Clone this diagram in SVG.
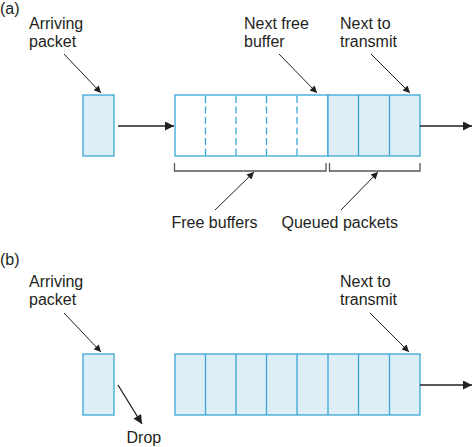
<svg xmlns="http://www.w3.org/2000/svg" width="474" height="447" viewBox="0 0 474 447">
<defs>
<style>
text{font-family:"Liberation Sans",Arial,sans-serif;font-size:16px;fill:#231f20}
.cell{stroke:#3aa6d6;stroke-width:1.3}
.full{fill:#deeef7}
.empty{fill:#ffffff}
.dash{stroke:#3aa6d6;stroke-width:1.3;stroke-dasharray:7,3.5}
.div{stroke:#3aa6d6;stroke-width:1.3}
.ptr{stroke:#231f20;stroke-width:1;fill:none}
.main{stroke:#231f20;stroke-width:1.3;fill:none}
.brace{stroke:#555;stroke-width:1.3;fill:none}
</style>
<marker id="ah" viewBox="0 0 10 10" refX="10" refY="5" markerWidth="10" markerHeight="7" markerUnits="userSpaceOnUse" orient="auto"><path d="M0,0L10,5L0,10z" fill="#231f20"/></marker>
<marker id="ahb" viewBox="0 0 10 10" refX="10" refY="5" markerWidth="16" markerHeight="9" markerUnits="userSpaceOnUse" orient="auto"><path d="M0,0L10,5L0,10z" fill="#231f20"/></marker>
</defs>

<text x="0" y="14">(a)</text>
<text x="0" y="265">(b)</text>

<g id="a-arriving-label"><text x="29" y="29">Arriving</text><text x="29" y="47">packet</text></g>
<g id="a-nextfree-label"><text x="244" y="29">Next free</text><text x="244" y="47">buffer</text></g>
<g id="a-nexttx-label"><text x="340" y="29">Next to</text><text x="340" y="47">transmit</text></g>

<g id="a-packet"><rect class="cell full" x="83" y="95" width="31" height="61"/></g>

<g id="a-queue">
<rect class="cell empty" x="175" y="95" width="153" height="61"/>
<rect class="cell full" x="328" y="95" width="92" height="61"/>
<line class="dash" x1="205.5" y1="96" x2="205.5" y2="156"/>
<line class="dash" x1="236" y1="96" x2="236" y2="156"/>
<line class="dash" x1="266.5" y1="96" x2="266.5" y2="156"/>
<line class="dash" x1="297" y1="96" x2="297" y2="156"/>
<line class="div" x1="358.5" y1="95" x2="358.5" y2="156"/>
<line class="div" x1="389.5" y1="95" x2="389.5" y2="156"/>
</g>

<g id="a-braces">
<path class="brace" d="M174.5,163V171H326V163"/>
<path class="brace" d="M329.5,163V171H420V163"/>
</g>
<g id="a-free-label"><text x="171.5" y="228">Free buffers</text></g>
<g id="a-queued-label"><text x="281.5" y="228">Queued packets</text></g>

<g id="b-arriving-label"><text x="29" y="287">Arriving</text><text x="29" y="305">packet</text></g>
<g id="b-nexttx-label"><text x="340" y="287">Next to</text><text x="340" y="305">transmit</text></g>
<g id="b-packet"><rect class="cell full" x="83" y="354" width="31" height="61"/></g>
<g id="b-queue">
<rect class="cell full" x="175" y="354" width="245" height="61"/>
<line class="div" x1="205.5" y1="354" x2="205.5" y2="415"/>
<line class="div" x1="236" y1="354" x2="236" y2="415"/>
<line class="div" x1="266.5" y1="354" x2="266.5" y2="415"/>
<line class="div" x1="297" y1="354" x2="297" y2="415"/>
<line class="div" x1="328" y1="354" x2="328" y2="415"/>
<line class="div" x1="358.5" y1="354" x2="358.5" y2="415"/>
<line class="div" x1="389.5" y1="354" x2="389.5" y2="415"/>
</g>
<g id="b-drop-label"><text x="126.5" y="443">Drop</text></g>

<g id="connectors">
<line class="ptr" x1="64" y1="54" x2="101" y2="93" marker-end="url(#ah)"/>
<line class="ptr" x1="279" y1="54" x2="317" y2="93" marker-end="url(#ah)"/>
<line class="ptr" x1="371" y1="54" x2="410" y2="93" marker-end="url(#ah)"/>
<line class="main" x1="118" y1="126" x2="174" y2="126" marker-end="url(#ahb)"/>
<line class="main" x1="420" y1="126" x2="472" y2="126" marker-end="url(#ahb)"/>
<line class="ptr" x1="215" y1="210" x2="254" y2="172" marker-end="url(#ah)"/>
<line class="ptr" x1="341" y1="210" x2="378" y2="172" marker-end="url(#ah)"/>
<line class="ptr" x1="64" y1="313" x2="101" y2="352" marker-end="url(#ah)"/>
<line class="ptr" x1="370" y1="313" x2="409" y2="352" marker-end="url(#ah)"/>
<line class="main" x1="118" y1="385" x2="142" y2="424" marker-end="url(#ahb)"/>
<line class="main" x1="420" y1="385" x2="472" y2="385" marker-end="url(#ahb)"/>
</g>
</svg>
